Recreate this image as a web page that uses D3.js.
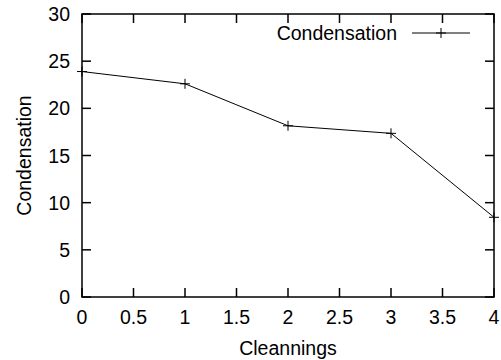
<!DOCTYPE html>
<html>
<head>
<meta charset="utf-8">
<script src="https://cdn.jsdelivr.net/npm/d3@7"></script>
<style>
  html, body { margin: 0; padding: 0; background: #fff; }
  svg { display: block; }
  text { font-family: "Liberation Sans", Arial, Helvetica, sans-serif; fill: #000; }
</style>
</head>
<body>
<script>
// Condensation measured after each cleaning
const cleanings = [0, 1, 2, 3, 4];
const condensation = [23.9, 22.6, 18.15, 17.35, 8.45];
const xTicks = [0, 0.5, 1, 1.5, 2, 2.5, 3, 3.5, 4];
const yTicks = [0, 5, 10, 15, 20, 25, 30];
const seriesName = "Condensation";

const W = 501, H = 360;
const m = { left: 82, right: 7, top: 14, bottom: 63 };

const svg = d3.select("body").append("svg").attr("width", W).attr("height", H);

const x = d3.scaleLinear().domain([0, 4]).range([m.left, W - m.right]);
const y = d3.scaleLinear().domain([0, 30]).range([H - m.bottom, m.top]);

const tickLen = 9;
const fs = 19.5;

// Frame
svg.append("rect")
  .attr("x", x(0)).attr("y", y(30))
  .attr("width", x(4) - x(0)).attr("height", y(0) - y(30))
  .attr("fill", "none").attr("stroke", "#000").attr("stroke-width", 1.5);

// Inward ticks on all four sides
const ticks = svg.append("g").attr("stroke", "#000").attr("stroke-width", 1.5);
xTicks.forEach(v => {
  ticks.append("line").attr("x1", x(v)).attr("x2", x(v)).attr("y1", y(0)).attr("y2", y(0) - tickLen);
  ticks.append("line").attr("x1", x(v)).attr("x2", x(v)).attr("y1", y(30)).attr("y2", y(30) + tickLen);
});
yTicks.forEach(v => {
  ticks.append("line").attr("x1", x(0)).attr("x2", x(0) + tickLen).attr("y1", y(v)).attr("y2", y(v));
  ticks.append("line").attr("x1", x(4)).attr("x2", x(4) - tickLen).attr("y1", y(v)).attr("y2", y(v));
});

// Tick labels
svg.append("g").selectAll("text").data(xTicks).join("text")
  .attr("x", d => x(d)).attr("y", y(0) + 27)
  .attr("text-anchor", "middle").attr("font-size", fs)
  .text(d => String(d));
svg.append("g").selectAll("text").data(yTicks).join("text")
  .attr("x", x(0) - 12).attr("y", d => y(d) + 7)
  .attr("text-anchor", "end").attr("font-size", fs)
  .text(d => String(d));

// Axis titles
svg.append("text")
  .attr("x", (x(0) + x(4)) / 2).attr("y", 355)
  .attr("text-anchor", "middle").attr("font-size", fs)
  .text("Cleannings");
svg.append("text")
  .attr("transform", `translate(31,${(y(0) + y(30)) / 2}) rotate(-90)`)
  .attr("text-anchor", "middle").attr("font-size", fs)
  .text("Condensation");

// Data line with plus markers
const pts = cleanings.map((c, i) => [c, condensation[i]]);
svg.append("path")
  .datum(pts)
  .attr("fill", "none").attr("stroke", "#000").attr("stroke-width", 1)
  .attr("d", d3.line().x(d => x(d[0])).y(d => y(d[1])));

const plus = (g, cx, cy, r) => {
  g.append("line").attr("x1", cx - r).attr("x2", cx + r).attr("y1", cy).attr("y2", cy);
  g.append("line").attr("x1", cx).attr("x2", cx).attr("y1", cy - r).attr("y2", cy + r);
};
const marks = svg.append("g").attr("stroke", "#000").attr("stroke-width", 1);
pts.forEach(p => plus(marks, x(p[0]), y(p[1]), 5));

// Legend
const ly = 33;
svg.append("text")
  .attr("x", 397).attr("y", ly + 7)
  .attr("text-anchor", "end").attr("font-size", fs)
  .text(seriesName);
const lg = svg.append("g").attr("stroke", "#000").attr("stroke-width", 1);
lg.append("line").attr("x1", 412).attr("x2", 470).attr("y1", ly).attr("y2", ly);
plus(lg, 441, ly, 5);
</script>
</body>
</html>
